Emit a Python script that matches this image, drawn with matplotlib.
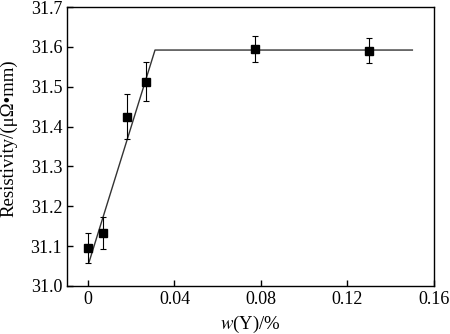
import numpy as np
import matplotlib
matplotlib.use("Agg")
from matplotlib import pyplot as plt

# data
w_y = [0.0, 0.007, 0.018, 0.027, 0.077, 0.130]
resist = [31.095, 31.132, 31.425, 31.513, 31.594, 31.590]
resist_err = [0.038, 0.040, 0.057, 0.048, 0.033, 0.031]

fit_x = [0.0005, 0.031, 0.150]
fit_y = [31.06, 31.592, 31.592]

xticks = [0, 0.04, 0.08, 0.12, 0.16]
xticklabels = ["0", "0.04", "0.08", "0.12", "0.16"]
yticks = [31.0, 31.1, 31.2, 31.3, 31.4, 31.5, 31.6, 31.7]

plt.rcParams['font.family'] = ['Liberation Serif', 'DejaVu Serif']
plt.rcParams['mathtext.fontset'] = 'stix'

fig = plt.figure(figsize=(4.5, 3.34), dpi=100)
ax = fig.add_axes([67/450, 1 - 286/334, (434-67)/450, (286-7)/334])

ax.plot(fit_x, fit_y, color="#333333", lw=1.0)
ax.errorbar(w_y, resist, yerr=resist_err, fmt="s", color="black",
            ms=5.5, elinewidth=0.8, capsize=2, capthick=0.8)

ax.set_xlim(-0.0097, 0.16)
ax.set_ylim(31.0, 31.7)
ax.set_xticks(xticks)
ax.set_xticklabels(xticklabels)
ax.set_yticks(yticks)
ax.set_yticklabels(["%.1f" % v for v in yticks])
ax.tick_params(direction="in", length=4, width=1, labelsize=13, top=False, right=False)
for s in ax.spines.values():
    s.set_linewidth(1.0)

ax.set_xlabel(r"$w$(Y)/%", fontsize=13.5, labelpad=4)
ax.set_ylabel("Resistivity/(μΩ•mm)", fontsize=13.5)
ax.yaxis.set_label_coords(-0.135, 0.53)

fig.savefig("out.png", dpi=100)
